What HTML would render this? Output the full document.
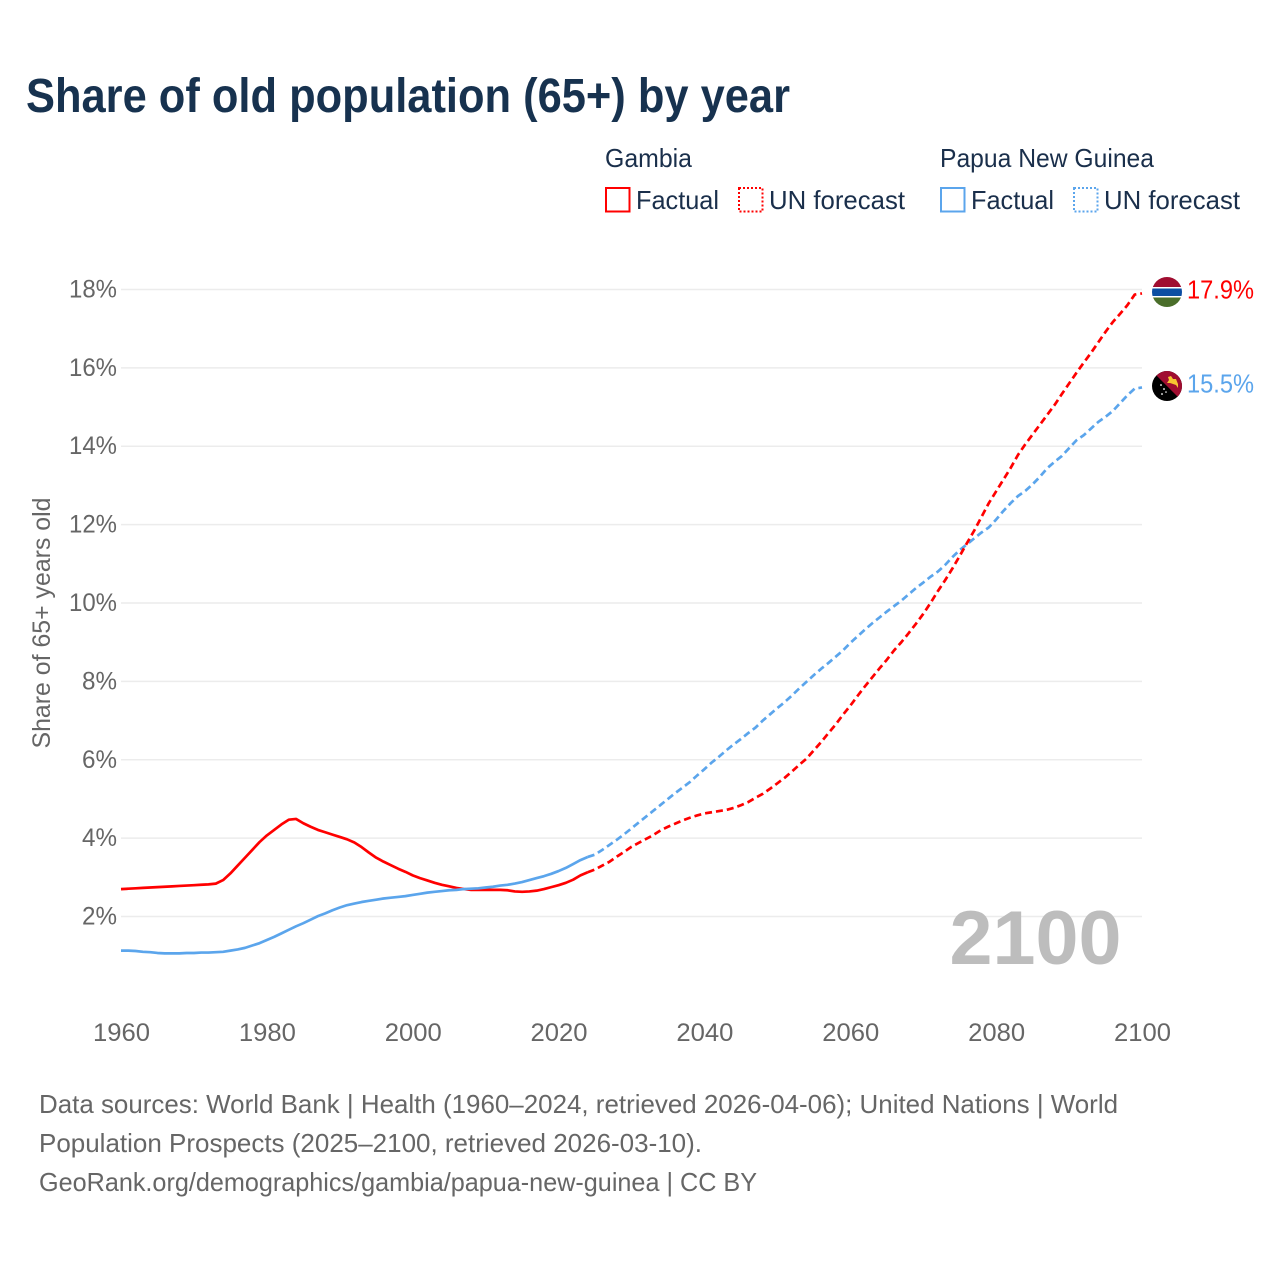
<!DOCTYPE html>
<html lang="en">
<head>
<meta charset="utf-8">
<title>Share of old population (65+) by year</title>
<style>
html,body{margin:0;padding:0;background:#fff;}
svg{display:block;font-family:"Liberation Sans",sans-serif;}
</style>
</head>
<body>
<svg id="chart" xmlns="http://www.w3.org/2000/svg" width="1280" height="1280" viewBox="0 0 1280 1280">
  <rect x="0" y="0" width="1280" height="1280" fill="#ffffff"/>
  <text x="26" y="112" font-size="48" font-weight="700" fill="#17324f" textLength="764" lengthAdjust="spacingAndGlyphs">Share of old population (65+) by year</text>

  <g font-size="26" fill="#1a2f4b">
    <text x="605" y="167" textLength="87" lengthAdjust="spacingAndGlyphs">Gambia</text>
    <rect x="606" y="188" width="23.5" height="23.5" fill="none" stroke="#ff0000" stroke-width="2"/>
    <text x="636" y="209" textLength="83" lengthAdjust="spacingAndGlyphs">Factual</text>
    <rect x="739" y="188" width="23.5" height="23.5" fill="none" stroke="#ff0000" stroke-width="2" stroke-dasharray="2 2"/>
    <text x="769" y="209" textLength="136" lengthAdjust="spacingAndGlyphs">UN forecast</text>
    <text x="940" y="167" textLength="214" lengthAdjust="spacingAndGlyphs">Papua New Guinea</text>
    <rect x="941" y="188" width="23.5" height="23.5" fill="none" stroke="#5ba5ec" stroke-width="2"/>
    <text x="971" y="209" textLength="83" lengthAdjust="spacingAndGlyphs">Factual</text>
    <rect x="1074" y="188" width="23.5" height="23.5" fill="none" stroke="#5ba5ec" stroke-width="2" stroke-dasharray="2 2"/>
    <text x="1104" y="209" textLength="136" lengthAdjust="spacingAndGlyphs">UN forecast</text>
  </g>

  <g id="grid"></g>
  <g id="yticks"></g>
  <g id="xticks"></g>
  <text transform="translate(50,623) rotate(-90)" text-anchor="middle" font-size="25" fill="#666666" textLength="251" lengthAdjust="spacingAndGlyphs">Share of 65+ years old</text>

  <text x="1121.5" y="964" text-anchor="end" font-size="76" font-weight="700" fill="#bdbdbd" textLength="172" lengthAdjust="spacingAndGlyphs">2100</text>

  <g id="series"></g>

  <defs>
    <clipPath id="gm-clip"><circle cx="0" cy="0" r="15"/></clipPath>
    <clipPath id="pg-clip"><circle cx="0" cy="0" r="15"/></clipPath>
  </defs>
  <g id="flag-gambia" clip-path="url(#gm-clip)">
    <rect x="-15" y="-15" width="30" height="30" fill="#ffffff"/>
    <rect x="-15" y="-15" width="30" height="10" fill="#a00d30"/>
    <rect x="-15" y="-3.5" width="30" height="7.5" fill="#0b4ea2"/>
    <rect x="-15" y="5.5" width="30" height="10" fill="#4a6e2a"/>
  </g>
  <g id="flag-png" clip-path="url(#pg-clip)">
    <rect x="-15" y="-15" width="30" height="30" fill="#000000"/>
    <polygon points="-15,-15 15,-15 15,15" fill="#a00d30"/>
    <path d="M1,-9 L4,-10 L6,-7 L9,-7 L11,-2 L11,2 L9,-1 L6,-2 L3,-3 L0,-3 L2,-6 Z" fill="#f7c531"/>
    <circle cx="-6" cy="-1" r="0.9" fill="#fff"/>
    <circle cx="-3" cy="3" r="0.9" fill="#fff"/>
    <circle cx="-1" cy="6" r="0.8" fill="#fff"/>
    <circle cx="-5" cy="8" r="0.9" fill="#fff"/>
  </g>
  <text id="end-label-gambia" x="1187" font-size="26" fill="#ff0000" textLength="67" lengthAdjust="spacingAndGlyphs"></text>
  <text id="end-label-png" x="1187" font-size="26" fill="#5ba5ec" textLength="67" lengthAdjust="spacingAndGlyphs"></text>

  <g font-size="26" fill="#666666">
    <text x="39" y="1113" textLength="1079" lengthAdjust="spacingAndGlyphs">Data sources: World Bank | Health (1960–2024, retrieved 2026-04-06); United Nations | World</text>
    <text x="39" y="1152" textLength="663" lengthAdjust="spacingAndGlyphs">Population Prospects (2025–2100, retrieved 2026-03-10).</text>
    <text x="39" y="1191" textLength="718" lengthAdjust="spacingAndGlyphs">GeoRank.org/demographics/gambia/papua-new-guinea | CC BY</text>
  </g>
</svg>
<script>
const xTickYears = [1960, 1980, 2000, 2020, 2040, 2060, 2080, 2100];
const yTickValues = [2, 4, 6, 8, 10, 12, 14, 16, 18];
const factualStartYear = 1960;
const forecastStartYear = 2024;

const gambiaFactual = [
  2.70,2.71,2.72,2.73,2.74,2.75,2.76,2.77,2.78,2.79,2.80,2.81,2.82,2.84,2.93,3.10,3.30,3.50,3.70,3.90,
  4.07,4.21,4.35,4.47,4.49,4.38,4.29,4.21,4.15,4.09,4.03,3.97,3.89,3.77,3.63,3.50,3.40,3.31,3.22,3.14,
  3.05,2.98,2.92,2.86,2.81,2.77,2.73,2.70,2.68,2.68,2.68,2.68,2.68,2.67,2.64,2.63,2.64,2.66,2.70,2.75,
  2.80,2.86,2.94,3.05,3.13
];
const gambiaForecast = [
  3.13,3.20,3.30,3.40,3.53,3.65,3.78,3.88,3.98,4.08,4.20,4.29,4.37,4.45,4.52,4.58,4.63,4.66,4.69,4.72,
  4.77,4.84,4.92,5.03,5.13,5.26,5.40,5.54,5.70,5.87,6.03,6.24,6.45,6.68,6.90,7.15,7.38,7.63,7.87,8.10,
  8.33,8.55,8.79,9.00,9.23,9.47,9.72,10.00,10.30,10.58,10.88,11.20,11.53,11.85,12.20,12.55,12.85,13.15,13.45,13.78,
  14.05,14.30,14.55,14.80,15.05,15.33,15.60,15.87,16.13,16.38,16.65,16.92,17.17,17.38,17.60,17.87,17.90
];
const pngFactual = [
  1.13,1.13,1.12,1.10,1.09,1.07,1.06,1.06,1.06,1.07,1.07,1.08,1.08,1.09,1.10,1.13,1.16,1.20,1.26,1.32,
  1.40,1.48,1.57,1.66,1.75,1.83,1.92,2.01,2.08,2.16,2.23,2.29,2.33,2.37,2.40,2.43,2.46,2.48,2.50,2.52,
  2.55,2.58,2.61,2.63,2.65,2.67,2.68,2.70,2.71,2.72,2.74,2.76,2.79,2.81,2.84,2.88,2.93,2.98,3.03,3.09,
  3.16,3.24,3.34,3.44,3.52
];
const pngForecast = [
  3.52,3.58,3.70,3.83,3.96,4.10,4.25,4.40,4.55,4.70,4.85,5.00,5.15,5.29,5.43,5.60,5.76,5.93,6.08,6.24,
  6.39,6.53,6.68,6.82,7.00,7.16,7.32,7.47,7.64,7.82,7.99,8.16,8.32,8.47,8.63,8.79,8.98,9.15,9.32,9.48,
  9.63,9.78,9.92,10.06,10.22,10.38,10.52,10.67,10.80,10.97,11.17,11.35,11.50,11.65,11.80,11.93,12.13,12.35,12.55,12.73,
  12.86,13.03,13.22,13.44,13.60,13.75,13.95,14.15,14.28,14.45,14.62,14.75,14.90,15.10,15.30,15.47,15.50
];

const SVG_NS = 'http://www.w3.org/2000/svg';
function xScale(year) { return 121 + (year - 1960) * (1142 - 121) / 140; }
function yScale(value) { return 994.9 - value * 39.19; }
function pathFrom(values, startYear) {
  return values.map(function (v, i) {
    return (i === 0 ? 'M' : 'L') + xScale(startYear + i).toFixed(2) + ' ' + yScale(v).toFixed(2);
  }).join(' ');
}

const gridGroup = document.getElementById('grid');
const yTickGroup = document.getElementById('yticks');
yTickValues.forEach(function (v) {
  const line = document.createElementNS(SVG_NS, 'line');
  
  
  line.setAttribute('x1', xScale(1960));
  line.setAttribute('x2', xScale(2100));
  line.setAttribute('y1', yScale(v));
  line.setAttribute('y2', yScale(v));
  line.setAttribute('stroke', '#ececec');
  line.setAttribute('stroke-width', '1.5');
  gridGroup.appendChild(line);

  const label = document.createElementNS(SVG_NS, 'text');
  
  
  label.setAttribute('x', 117);
  label.setAttribute('y', yScale(v) + 8);
  label.setAttribute('text-anchor', 'end');
  label.setAttribute('font-size', '25');
  label.setAttribute('fill', '#666666');
  label.setAttribute('textLength', v >= 10 ? '48' : '35');
  label.setAttribute('lengthAdjust', 'spacingAndGlyphs');
  label.textContent = v + '%';
  yTickGroup.appendChild(label);
});

const xTickGroup = document.getElementById('xticks');
xTickYears.forEach(function (year) {
  const label = document.createElementNS(SVG_NS, 'text');
  
  
  label.setAttribute('x', xScale(year) + 0.5);
  label.setAttribute('y', 1041);
  label.setAttribute('text-anchor', 'middle');
  label.setAttribute('font-size', '25');
  label.setAttribute('fill', '#666666');
  label.setAttribute('textLength', '57');
  label.setAttribute('lengthAdjust', 'spacingAndGlyphs');
  label.textContent = year;
  xTickGroup.appendChild(label);
});

const seriesGroup = document.getElementById('series');
function addLine(values, startYear, color, dashed, name) {
  const p = document.createElementNS(SVG_NS, 'path');
  
  
  p.setAttribute('d', pathFrom(values, startYear));
  p.setAttribute('fill', 'none');
  p.setAttribute('stroke', color);
  p.setAttribute('stroke-width', '2.7');
  p.setAttribute('stroke-linejoin', 'round');
  if (dashed) {
    p.setAttribute('stroke-dasharray', '7 4');
  }
  seriesGroup.appendChild(p);
}
addLine(gambiaFactual, factualStartYear, '#ff0000', false, 'gambia-factual-line');
addLine(pngFactual, factualStartYear, '#5ba5ec', false, 'png-factual-line');
addLine(pngForecast, forecastStartYear, '#5ba5ec', true, 'png-forecast-line');
addLine(gambiaForecast, forecastStartYear, '#ff0000', true, 'gambia-forecast-line');

const gambiaLast = gambiaForecast[gambiaForecast.length - 1];
const pngLast = pngForecast[pngForecast.length - 1];
document.getElementById('flag-gambia').setAttribute('transform', 'translate(1167,' + (yScale(gambiaLast) - 1.4) + ')');
document.getElementById('flag-png').setAttribute('transform', 'translate(1167,' + (yScale(pngLast) - 1.4) + ')');
const gambiaEnd = document.getElementById('end-label-gambia');
gambiaEnd.setAttribute('y', yScale(gambiaLast) + 5);
gambiaEnd.textContent = gambiaLast.toFixed(1) + '%';
const pngEnd = document.getElementById('end-label-png');
pngEnd.setAttribute('y', yScale(pngLast) + 5);
pngEnd.textContent = pngLast.toFixed(1) + '%';
</script>
</body>
</html>
